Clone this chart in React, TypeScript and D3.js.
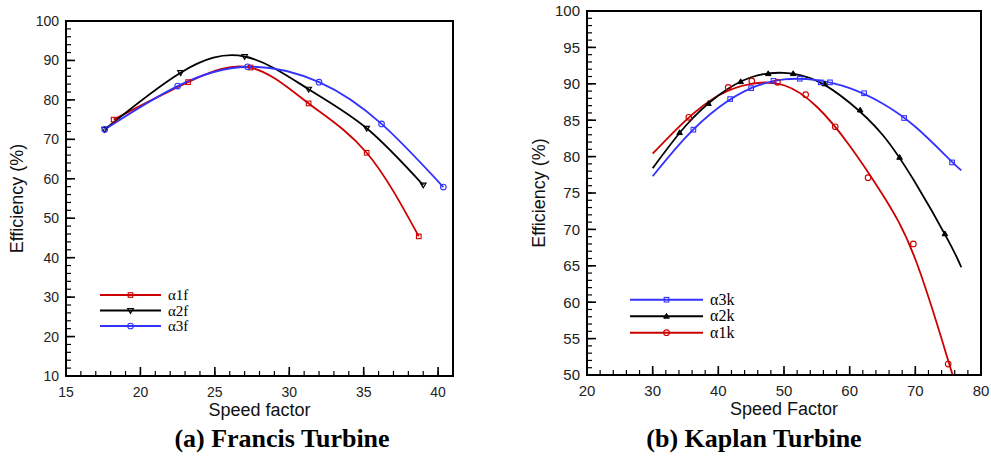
import React from "react";
import * as d3 from "d3";

// (a) Francis turbine - measured points, curves go through them
const francisSpeed1 = [18.2, 23.2, 27.4, 31.3, 35.2, 38.7];
const francisEff1 = [75.0, 84.5, 88.2, 79.1, 66.6, 45.4];
const francisSpeed2 = [17.6, 22.7, 27.0, 31.3, 35.2, 39.0];
const francisEff2 = [72.5, 86.9, 91.0, 82.7, 72.8, 58.4];
const francisSpeed3 = [17.6, 22.5, 27.2, 32.0, 36.2, 40.35];
const francisEff3 = [72.5, 83.5, 88.4, 84.5, 73.9, 57.9];

// (b) Kaplan turbine - measured points
const kaplanSpeed1 = [35.5, 41.5, 45.1, 49.0, 53.3, 57.8, 62.8, 69.7, 75.0];
const kaplanEff1 = [85.4, 89.5, 90.4, 90.2, 88.5, 84.1, 77.1, 68.0, 51.5];
const kaplanSpeed2 = [34.1, 38.5, 43.4, 47.6, 51.4, 56.2, 61.6, 67.6, 74.5];
const kaplanEff2 = [83.3, 87.3, 90.3, 91.4, 91.4, 90.0, 86.4, 79.9, 69.4];
const kaplanSpeed3 = [36.2, 41.8, 45.0, 48.4, 52.4, 55.6, 57.0, 62.2, 68.3, 75.6];
const kaplanEff3 = [83.7, 87.9, 89.4, 90.4, 90.7, 90.2, 90.2, 88.7, 85.3, 79.2];

const kaplanFitSpeed = [30, 35, 40, 45, 50, 55, 60, 65, 70, 75, 77];
const kaplanFit1 = [80.4, 84.95, 88.4, 90.0, 89.8, 86.85, 81.5, 74.8, 65.9, 52.0, 46.3];
const kaplanFit2 = [78.4, 84.2, 88.4, 90.9, 91.5, 90.4, 87.4, 83.0, 76.4, 68.5, 64.8];
const kaplanFit3 = [77.3, 82.6, 86.7, 89.4, 90.6, 90.5, 89.4, 87.3, 84.1, 79.8, 78.1];

const RED = "#cc0000";
const BLUE = "#3333ff";
const BLACK = "#000000";

const sans = "'Liberation Sans', Arial, sans-serif";
const serif = "'Liberation Serif', 'Times New Roman', serif";

function Marker({ kind, x, y, color }) {
  if (kind === "square")
    return <rect x={x - 2.3} y={y - 2.3} width={4.6} height={4.6} fill="none" stroke={color} strokeWidth={1.1} />;
  if (kind === "circle")
    return <circle cx={x} cy={y} r={2.8} fill="none" stroke={color} strokeWidth={1.1} />;
  if (kind === "tridown")
    return <path d={`M${x - 2.8},${y - 2}L${x + 2.8},${y - 2}L${x},${y + 2.8}Z`} fill="none" stroke={color} strokeWidth={1.2} />;
  return <path d={`M${x - 2.8},${y + 2}L${x + 2.8},${y + 2}L${x},${y - 2.8}Z`} fill={color} stroke={color} strokeWidth={1} />;
}

function Panel(props) {
  const { id, box, xDomain, yDomain, xMajor, xMinor, yMajor, yMinor, tickSize, xTitle, yTitleX,
    caption, captionX, series, legend } = props;
  const x = d3.scaleLinear().domain(xDomain).range([box.left, box.right]);
  const y = d3.scaleLinear().domain(yDomain).range([box.bottom, box.top]);
  const line = d3.line().x((d) => x(d[0])).y((d) => y(d[1])).curve(d3.curveNatural);

  const inside = (v, dom) => v > dom[0] && v < dom[1];
  const xMaj = d3.range(xDomain[0], xDomain[1] + 1e-9, xMajor).filter((v) => inside(v, xDomain));
  const xMin = d3.range(xDomain[0], xDomain[1] + 1e-9, xMinor).filter((v) => inside(v, xDomain));
  const yMaj = d3.range(yDomain[0], yDomain[1] + 1e-9, yMajor).filter((v) => inside(v, yDomain));
  const yMin = d3.range(yDomain[0], yDomain[1] + 1e-9, yMinor).filter((v) => inside(v, yDomain));
  const xLabels = d3.range(xDomain[0], xDomain[1] + 1e-9, xMajor);
  const yLabels = d3.range(yDomain[0], yDomain[1] + 1e-9, yMajor);

  return (
    <g>
      <defs>
        <clipPath id={id}>
          <rect x={box.left} y={box.top} width={box.right - box.left} height={box.bottom - box.top} />
        </clipPath>
      </defs>
      <g clipPath={`url(#${id})`}>
        {series.map((s, i) => {
          const cx = s.curveXs || s.xs;
          const cy = s.curveYs || s.ys;
          return <path key={i} d={line(cx.map((v, j) => [v, cy[j]]))} fill="none" stroke={s.color} strokeWidth={1.8} />;
        })}
        {series.map((s, i) =>
          s.xs.map((v, j) => <Marker key={i + "-" + j} kind={s.marker} x={x(v)} y={y(s.ys[j])} color={s.color} />)
        )}
      </g>
      {/* ticks point inward */}
      {xMin.map((v) => <line key={"xm" + v} x1={x(v)} x2={x(v)} y1={box.bottom} y2={box.bottom - 5} stroke="#000" strokeWidth={1.2} />)}
      {xMaj.map((v) => <line key={"xM" + v} x1={x(v)} x2={x(v)} y1={box.bottom} y2={box.bottom - 9} stroke="#000" strokeWidth={1.6} />)}
      {yMin.map((v) => <line key={"ym" + v} x1={box.left} x2={box.left + 5} y1={y(v)} y2={y(v)} stroke="#000" strokeWidth={1.2} />)}
      {yMaj.map((v) => <line key={"yM" + v} x1={box.left} x2={box.left + 9} y1={y(v)} y2={y(v)} stroke="#000" strokeWidth={1.6} />)}
      <rect x={box.left} y={box.top} width={box.right - box.left} height={box.bottom - box.top} fill="none" stroke="#000" strokeWidth={2} />
      {xLabels.map((v) => (
        <text key={"xl" + v} x={x(v)} y={box.bottom + 21} textAnchor="middle" fontFamily={sans} fontSize={tickSize} fill="#222">{v}</text>
      ))}
      {yLabels.map((v) => (
        <text key={"yl" + v} x={box.left - 7} y={y(v) + tickSize * 0.36} textAnchor="end" fontFamily={sans} fontSize={tickSize} fill="#222">{v}</text>
      ))}
      <text x={(box.left + box.right) / 2} y={box.bottom + 40} textAnchor="middle" fontFamily={sans} fontSize={18} fill="#111">{xTitle}</text>
      <text transform={`translate(${yTitleX},${(box.top + box.bottom) / 2}) rotate(-90)`} textAnchor="middle" fontFamily={sans} fontSize={18} fill="#111">Efficiency (%)</text>
      <text x={captionX} y={447} textAnchor="middle" fontFamily={serif} fontWeight="bold" fontSize={26} fill="#000">{caption}</text>
      {/* legend */}
      {legend.order.map((si, k) => {
        const s = series[si];
        const ly = legend.y + k * legend.gap;
        return (
          <g key={"lg" + k}>
            <line x1={legend.x} x2={legend.x + legend.len} y1={ly} y2={ly} stroke={s.color} strokeWidth={2} />
            <Marker kind={s.marker} x={legend.x + legend.len / 2} y={ly} color={s.color} />
            <text x={legend.x + legend.len + 7} y={ly + 5} fontFamily={serif} fontSize={legend.font} fill="#000">{s.label}</text>
          </g>
        );
      })}
    </g>
  );
}

export default function App() {
  const francis = [
    { xs: francisSpeed1, ys: francisEff1, color: RED, marker: "square", label: "α1f" },
    { xs: francisSpeed2, ys: francisEff2, color: BLACK, marker: "tridown", label: "α2f" },
    { xs: francisSpeed3, ys: francisEff3, color: BLUE, marker: "circle", label: "α3f" },
  ];
  const kaplan = [
    { xs: kaplanSpeed1, ys: kaplanEff1, curveXs: kaplanFitSpeed, curveYs: kaplanFit1, color: RED, marker: "circle", label: "α1k" },
    { xs: kaplanSpeed2, ys: kaplanEff2, curveXs: kaplanFitSpeed, curveYs: kaplanFit2, color: BLACK, marker: "triup", label: "α2k" },
    { xs: kaplanSpeed3, ys: kaplanEff3, curveXs: kaplanFitSpeed, curveYs: kaplanFit3, color: BLUE, marker: "square", label: "α3k" },
  ];
  return (
    <svg width={991} height={457} style={{ position: "absolute", left: 0, top: 0, background: "#fff" }}>
      <rect width={991} height={457} fill="#fff" />
      <Panel
        id="clipA"
        box={{ left: 66, right: 453, top: 21, bottom: 376 }}
        xDomain={[15, 41]} yDomain={[10, 100]}
        xMajor={5} xMinor={1} yMajor={10} yMinor={2}
        tickSize={14}
        xTitle="Speed factor" yTitleX={23}
        caption="(a) Francis Turbine" captionX={282}
        series={francis}
        legend={{ x: 100, y: 295, gap: 15.5, len: 61, font: 15, order: [0, 1, 2] }}
      />
      <Panel
        id="clipB"
        box={{ left: 587, right: 981, top: 11, bottom: 375 }}
        xDomain={[20, 80]} yDomain={[50, 100]}
        xMajor={10} xMinor={2} yMajor={5} yMinor={1}
        tickSize={15}
        xTitle="Speed Factor" yTitleX={545}
        caption="(b) Kaplan Turbine" captionX={754}
        series={kaplan}
        legend={{ x: 630, y: 299.7, gap: 16.5, len: 73, font: 16, order: [2, 1, 0] }}
      />
    </svg>
  );
}
